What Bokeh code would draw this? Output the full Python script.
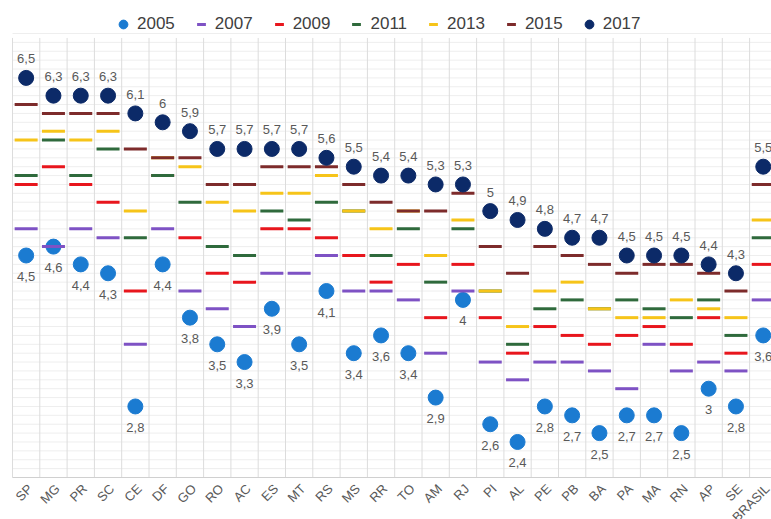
import math
from bokeh.plotting import figure
from bokeh.models import ColumnDataSource, Legend, LegendItem, Range1d
from bokeh.core.properties import value
from bokeh.embed import file_html
from bokeh.resources import INLINE

states = ["SP", "MG", "PR", "SC", "CE", "DF", "GO", "RO", "AC", "ES", "MT", "RS", "MS", "RR",
          "TO", "AM", "RJ", "PI", "AL", "PE", "PB", "BA", "PA", "MA", "RN", "AP", "SE", "BRASIL"]

v2005 = [4.5, 4.6, 4.4, 4.3, 2.8, 4.4, 3.8, 3.5, 3.3, 3.9, 3.5, 4.1, 3.4, 3.6,
         3.4, 2.9, 4.0, 2.6, 2.4, 2.8, 2.7, 2.5, 2.7, 2.7, 2.5, 3.0, 2.8, 3.6]
v2007 = [4.8, 4.6, 4.8, 4.7, 3.5, 4.8, 4.1, 3.9, 3.7, 4.3, 4.3, 4.5, 4.1, 4.1,
         4.0, 3.4, 4.1, 3.3, 3.1, 3.3, 3.3, 3.2, 3.0, 3.5, 3.2, 3.3, 3.2, 4.0]
v2009 = [5.3, 5.5, 5.3, 5.1, 4.1, 5.4, 4.7, 4.3, 4.2, 4.8, 4.8, 4.7, 4.5, 4.2,
         4.4, 3.8, 4.4, 3.8, 3.4, 3.7, 3.6, 3.5, 3.6, 3.7, 3.5, 3.8, 3.4, 4.4]
v2011 = [5.4, 5.8, 5.4, 5.7, 4.7, 5.4, 5.1, 4.6, 4.5, 5.0, 4.9, 5.1, 5.0, 4.5,
         4.8, 4.2, 4.8, 4.1, 3.5, 3.9, 4.0, 3.9, 4.0, 3.9, 3.8, 4.0, 3.6, 4.7]
v2013 = [5.8, 5.9, 5.8, 5.9, 5.0, 5.6, 5.5, 5.1, 5.0, 5.2, 5.2, 5.4, 5.0, 4.8,
         5.0, 4.5, 4.9, 4.1, 3.7, 4.1, 4.2, 3.9, 3.8, 3.8, 4.0, 3.9, 3.8, 4.9]
v2015 = [6.2, 6.1, 6.1, 6.1, 5.7, 5.6, 5.6, 5.3, 5.3, 5.5, 5.5, 5.5, 5.3, 5.1,
         5.0, 5.0, 5.2, 4.6, 4.3, 4.6, 4.5, 4.4, 4.3, 4.4, 4.4, 4.3, 4.1, 5.3]
v2017 = [6.5, 6.3, 6.3, 6.3, 6.1, 6.0, 5.9, 5.7, 5.7, 5.7, 5.7, 5.6, 5.5, 5.4,
         5.4, 5.3, 5.3, 5.0, 4.9, 4.8, 4.7, 4.7, 4.5, 4.5, 4.5, 4.4, 4.3, 5.5]

years = ["2005", "2007", "2009", "2011", "2013", "2015", "2017"]
colors = ["#1b7bd1", "#7e52c4", "#e8161d", "#2f6a3c", "#f6c419", "#7d2b2b", "#0c2a68"]

def fmt(v):
    return ("%g" % v).replace(".", ",")

idx = list(range(len(states)))
n = len(states)
FONT = "Liberation Sans"

# value axis extent of the gridded area
GRID_LO, GRID_HI, GRID_STEP = 2.0, 6.95, 0.1

W, H = 771, 519
PX_X = 27.3          # pixels per category
PX_Y = 88.8          # pixels per unit
LEFT_PAD, BOTTOM_PAD = 12, 42
x_lo = -0.5 - LEFT_PAD / PX_X
x_hi = x_lo + W / PX_X
y_lo = GRID_LO - BOTTOM_PAD / PX_Y
y_hi = y_lo + H / PX_Y

p = figure(width=W, height=H, output_backend="svg", toolbar_location=None,
           x_range=Range1d(x_lo, x_hi), y_range=Range1d(y_lo, y_hi),
           min_border=0)
p.outline_line_color = None
p.background_fill_color = "white"
p.border_fill_color = "white"
p.xaxis.visible = False
p.yaxis.visible = False
p.xgrid.visible = False
p.ygrid.visible = False

# grid
nh = int(round((GRID_HI - GRID_LO) / GRID_STEP))
hy = [GRID_LO + GRID_STEP * k for k in range(1, nh + 1)]
p.segment(x0=[-0.5] * len(hy), x1=[x_hi] * len(hy), y0=hy, y1=hy,
          line_color="#eeeeee", line_width=1)
vx = [i - 0.5 for i in range(n + 1)]
p.segment(x0=vx, x1=vx, y0=[GRID_LO] * len(vx), y1=[GRID_HI] * len(vx),
          line_color="#dcdcdc", line_width=1)
# axis line
p.segment(x0=[-0.5], x1=[x_hi], y0=[GRID_LO], y1=[GRID_LO], line_color="#d0d0d0", line_width=1)

series = [v2005, v2007, v2009, v2011, v2013, v2015, v2017]
items = []
for k, (yr, vals, col) in enumerate(zip(years, series, colors)):
    src = ColumnDataSource(dict(x=idx, y=vals))
    if k in (0, 6):
        r = p.scatter("x", "y", source=src, marker="circle", size=15,
                      fill_color=col, line_color=col)
    else:
        r = p.scatter("x", "y", source=src, marker="dash", size=23,
                      line_color=col, line_width=3)
    items.append(LegendItem(label=yr, renderers=[r]))

s05 = ColumnDataSource(dict(x=idx, y=v2005, lab=[fmt(v) for v in v2005]))
s17 = ColumnDataSource(dict(x=idx, y=v2017, lab=[fmt(v) for v in v2017]))
p.text("x", "y", text="lab", source=s17, y_offset=-19, text_align="center",
       text_baseline="middle", text_font=value(FONT), text_font_size="13px",
       text_color="#595959")
p.text("x", "y", text="lab", source=s05, y_offset=21, text_align="center",
       text_baseline="middle", text_font=value(FONT), text_font_size="13px",
       text_color="#595959")

# category labels, rotated, under the axis line
cat_src = ColumnDataSource(dict(x=idx, y=[GRID_LO] * n, t=states))
p.text("x", "y", text="t", source=cat_src, angle=math.pi / 4,
       x_offset=4, y_offset=9, text_align="right", text_baseline="middle",
       text_font=value(FONT), text_font_size="13px", text_color="#595959")

legend = Legend(items=items, orientation="horizontal", location=(112, H - 35),
                border_line_color=None, background_fill_alpha=0,
                label_text_font=FONT, label_text_font_size="17px",
                label_text_color="#404040", glyph_width=22, glyph_height=22,
                label_standoff=3, spacing=15, padding=3, margin=0)
p.add_layout(legend, "center")

open("out.html", "w").write(file_html(p, INLINE))
